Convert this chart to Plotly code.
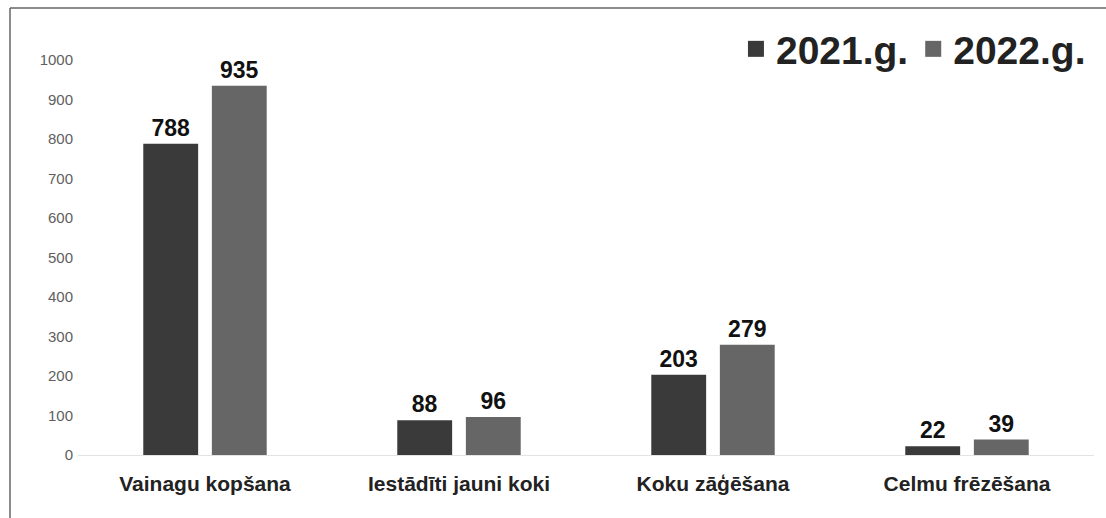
import plotly.graph_objects as go

categories = ["Vainagu kopšana", "Iestādīti jauni koki", "Koku zāģēšana", "Celmu frēzēšana"]
values_2021 = [788, 88, 203, 22]
values_2022 = [935, 96, 279, 39]
series_names = ["2021.g.", "2022.g."]
series_colors = ["#3a3a3a", "#666666"]
y_ticks = [0, 100, 200, 300, 400, 500, 600, 700, 800, 900, 1000]

W, H = 1106, 518
ml, mr, mt, mb = 78, 12, 60, 63
pw, ph = W - ml - mr, H - mt - mb
FONT = "Liberation Sans, Arial"

def px_x(p):
    return (p - ml) / pw

def px_y(p):
    return (H - mb - p) / ph

fig = go.Figure()
for name, vals, col in zip(series_names, [values_2021, values_2022], series_colors):
    fig.add_trace(go.Bar(
        x=categories, y=vals, name=name, showlegend=False,
        marker=dict(color=col, line=dict(width=0)),
        text=[str(v) for v in vals], textposition="outside", cliponaxis=False,
        textfont=dict(family=FONT, size=23, color="#111111", weight="bold"),
    ))
# legend entries (large square swatches)
for name, col in zip(series_names, series_colors):
    fig.add_trace(go.Scatter(
        x=[None], y=[None], mode="markers", name=name, showlegend=True,
        marker=dict(symbol="square", size=16, color=col),
    ))

fig.update_layout(
    width=W, height=H,
    margin=dict(l=ml, r=mr, t=mt, b=mb),
    paper_bgcolor="white", plot_bgcolor="white",
    barmode="group", bargap=0.46, bargroupgap=0.2,
    font=dict(family=FONT),
    showlegend=True,
    legend=dict(orientation="h", x=0.997, xanchor="right", y=px_y(49), yanchor="middle",
                font=dict(family=FONT, size=39, color="#222222", weight="bold"),
                itemsizing="trace", itemwidth=30, bgcolor="rgba(0,0,0,0)", traceorder="normal"),
    xaxis=dict(showgrid=False, showline=True, linecolor="#e3e3e3", linewidth=1,
               ticks="", ticklabelstandoff=10,
               tickfont=dict(family=FONT, size=21, color="#222222", weight="bold")),
    yaxis=dict(range=[0, 1000], tickvals=y_ticks, showgrid=False, zeroline=False,
               showline=False, ticks="", ticklabelstandoff=4,
               tickfont=dict(family=FONT, size=15, color="#606060")),
    shapes=[
        dict(type="line", xref="paper", yref="paper", x0=px_x(10), x1=px_x(W), y0=px_y(8), y1=px_y(8),
             line=dict(color="#666666", width=1.5)),
        dict(type="line", xref="paper", yref="paper", x0=px_x(10), x1=px_x(10), y0=px_y(8), y1=px_y(H),
             line=dict(color="#666666", width=1.5)),
    ],
)

fig.write_html("out.html", config={"displayModeBar": False},
               post_script="document.body.style.margin='0';")
